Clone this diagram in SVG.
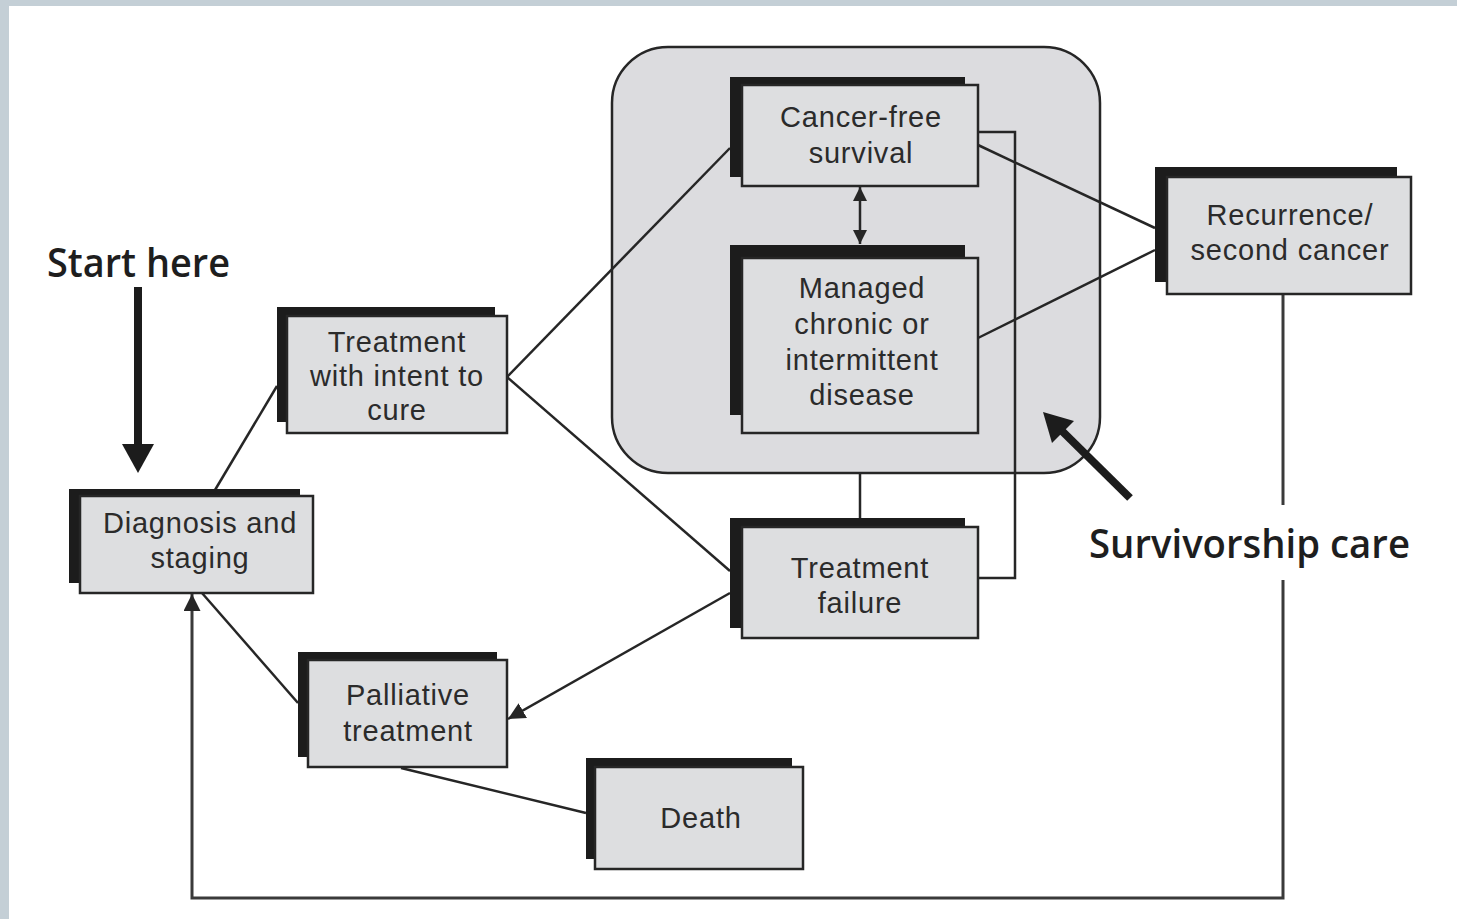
<svg xmlns="http://www.w3.org/2000/svg" width="1457" height="919" viewBox="0 0 1457 919">
<defs>
<style>
.shadow{fill:#1c1c1c}
.box{fill:#dddee0;stroke:#262626;stroke-width:2.5}
.lbl{font-family:"Liberation Sans",Arial,sans-serif;font-size:29px;letter-spacing:0.8px;fill:#2b2b2b;text-anchor:middle}
.big{font-family:"Open Sans","Liberation Sans",Arial,sans-serif;font-size:40px;font-weight:600;fill:#1e1e1e}
.con{fill:none;stroke:#262626;stroke-width:2.5}
.loop{fill:none;stroke:#3a3a3a;stroke-width:3}
.thick{fill:none;stroke:#1c1c1c;stroke-width:8}
.head{fill:#1c1c1c}
</style>
<marker id="arr" viewBox="0 0 16 16" refX="16" refY="8" markerWidth="17" markerHeight="17" markerUnits="userSpaceOnUse" orient="auto-start-reverse">
<path d="M0,0 L16,8 L0,16 z" fill="#262626"/>
</marker>
<marker id="arrS" viewBox="0 0 14 14" refX="14" refY="7" markerWidth="14" markerHeight="14" markerUnits="userSpaceOnUse" orient="auto-start-reverse">
<path d="M0,0 L14,7 L0,14 z" fill="#262626"/>
</marker>
</defs>
<rect x="0" y="0" width="1457" height="919" fill="#ffffff"/>
<rect x="0" y="0" width="1457" height="6" fill="#c4cfd6"/>
<rect x="0" y="0" width="9" height="919" fill="#c4cfd6"/>

<g id="survivorship-area">
<rect x="612" y="47" width="488" height="426" rx="56" ry="56" fill="#dcdcdf" stroke="#262626" stroke-width="2.5"/>
</g>

<g id="connectors">
<line class="con" x1="215" y1="490" x2="277" y2="386"/>
<line class="con" x1="507" y1="377" x2="730" y2="148"/>
<line class="con" x1="507" y1="377" x2="730" y2="571"/>
<line class="con" x1="860" y1="187" x2="860" y2="244" marker-start="url(#arrS)" marker-end="url(#arrS)"/>
<line class="con" x1="978" y1="145" x2="1155" y2="228"/>
<line class="con" x1="978" y1="338" x2="1155" y2="250"/>
<polyline class="con" points="978,132 1015,132 1015,578 978,578"/>
<line class="con" x1="860" y1="473" x2="860" y2="518"/>
<line class="con" x1="730" y1="593" x2="508" y2="719" marker-end="url(#arr)"/>
<line class="con" x1="298" y1="703" x2="202" y2="593"/>
<line class="con" x1="401" y1="768" x2="586" y2="813"/>
<line class="loop" x1="1283" y1="294" x2="1283" y2="505"/>
<polyline class="loop" points="1283,580 1283,898 192,898 192,594" marker-end="url(#arr)"/>
<line class="thick" x1="138" y1="287" x2="138" y2="448"/>
<polygon class="head" points="122,444 154,444 138,473"/>
<line class="thick" x1="1130" y1="498" x2="1060" y2="429"/>
<polygon class="head" points="1043,412 1074,421 1052,443"/>
</g>

<g id="start-here">
<text class="big" x="47" y="277" textLength="183" lengthAdjust="spacingAndGlyphs">Start here</text>
</g>

<g id="survivorship-care">
<text class="big" x="1089" y="558" textLength="321" lengthAdjust="spacingAndGlyphs">Survivorship care</text>
</g>

<g id="diagnosis">
<rect class="shadow" x="69" y="489" width="231" height="94"/>
<rect class="box" x="80" y="496" width="233" height="97"/>
<text class="lbl" x="200" y="533">Diagnosis and</text>
<text class="lbl" x="200" y="568">staging</text>
</g>

<g id="treatment-intent">
<rect class="shadow" x="277" y="307" width="218" height="115"/>
<rect class="box" x="287" y="316" width="220" height="117"/>
<text class="lbl" x="397" y="352">Treatment</text>
<text class="lbl" x="397" y="386">with intent to</text>
<text class="lbl" x="397" y="420">cure</text>
</g>

<g id="cancer-free">
<rect class="shadow" x="730" y="77" width="235" height="100"/>
<rect class="box" x="742" y="85" width="236" height="101"/>
<text class="lbl" x="861" y="127">Cancer-free</text>
<text class="lbl" x="861" y="163">survival</text>
</g>

<g id="managed">
<rect class="shadow" x="730" y="245" width="235" height="170"/>
<rect class="box" x="742" y="258" width="236" height="175"/>
<text class="lbl" x="862" y="298">Managed</text>
<text class="lbl" x="862" y="334">chronic or</text>
<text class="lbl" x="862" y="370">intermittent</text>
<text class="lbl" x="862" y="405">disease</text>
</g>

<g id="recurrence">
<rect class="shadow" x="1155" y="167" width="242" height="115"/>
<rect class="box" x="1167" y="177" width="244" height="117"/>
<text class="lbl" x="1290" y="225">Recurrence/</text>
<text class="lbl" x="1290" y="260">second cancer</text>
</g>

<g id="treatment-failure">
<rect class="shadow" x="730" y="518" width="235" height="110"/>
<rect class="box" x="742" y="527" width="236" height="111"/>
<text class="lbl" x="860" y="578">Treatment</text>
<text class="lbl" x="860" y="613">failure</text>
</g>

<g id="palliative">
<rect class="shadow" x="298" y="652" width="199" height="105"/>
<rect class="box" x="308" y="660" width="199" height="107"/>
<text class="lbl" x="408" y="705">Palliative</text>
<text class="lbl" x="408" y="741">treatment</text>
</g>

<g id="death">
<rect class="shadow" x="586" y="758" width="206" height="101"/>
<rect class="box" x="595" y="767" width="208" height="102"/>
<text class="lbl" x="701" y="828">Death</text>
</g>
</svg>
